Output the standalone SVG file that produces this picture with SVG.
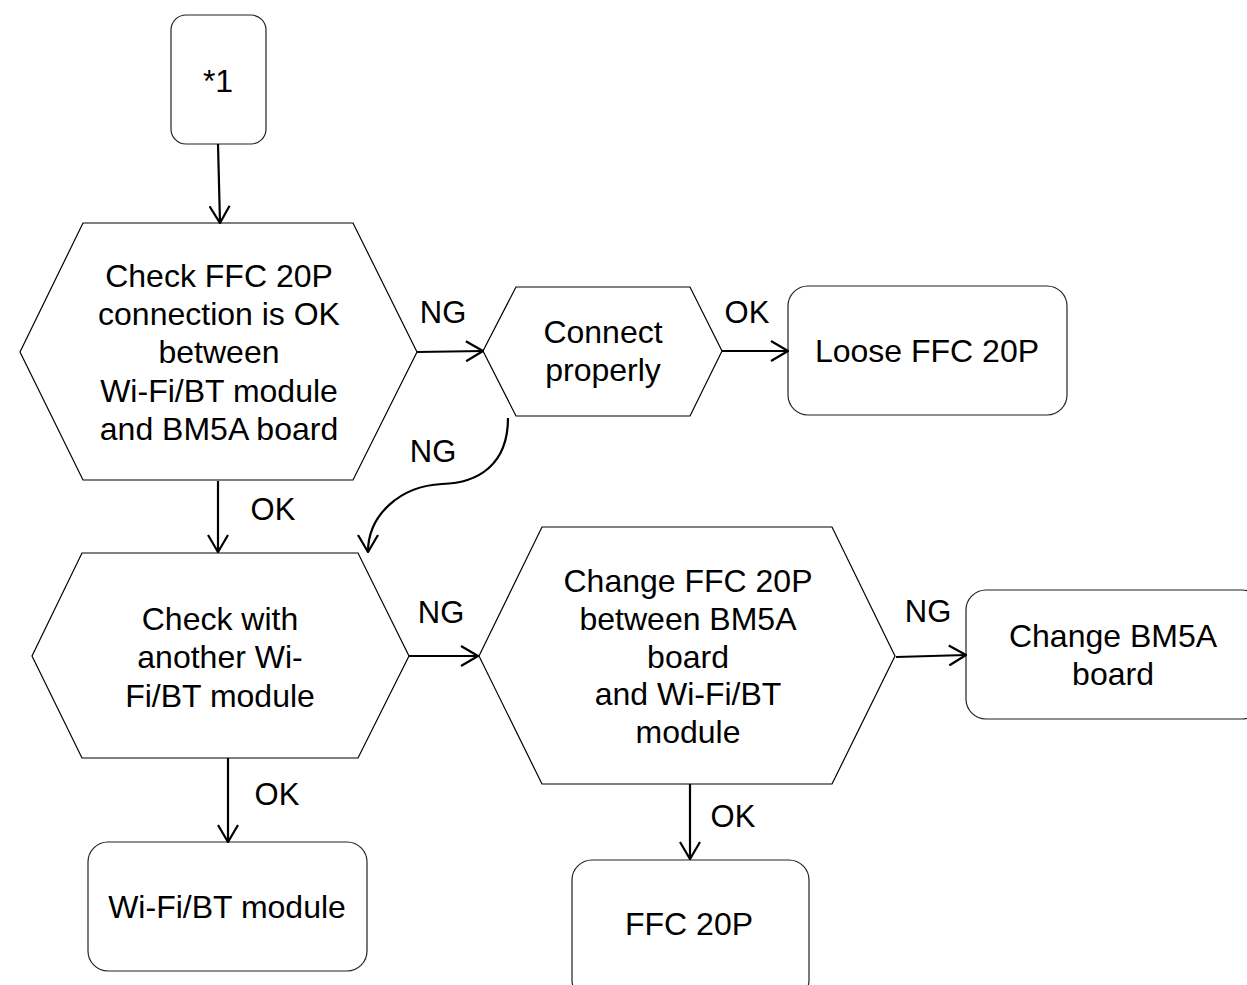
<svg xmlns="http://www.w3.org/2000/svg" width="1247" height="985" viewBox="0 0 1247 985">
<style>
.shape{fill:#fff;stroke:#000;stroke-width:1.2}
.box{fill:#fff;stroke:#222;stroke-width:1.2}
.t{font-family:"Liberation Sans",Arial,sans-serif;font-size:32px;fill:#000;text-anchor:middle}
.lbl{font-family:"Liberation Sans",Arial,sans-serif;font-size:31px;fill:#000;text-anchor:middle}
.c{fill:none;stroke:#000;stroke-width:2.2;marker-end:url(#arr)}
</style>
<defs>
<marker id="arr" viewBox="0 0 19 22" refX="18" refY="11" markerWidth="19" markerHeight="22" markerUnits="userSpaceOnUse" orient="auto">
<path d="M1,1 L18,11 L1,21" fill="none" stroke="#000" stroke-width="2.2"/>
</marker>
</defs>
<rect width="1247" height="985" fill="#fff"/>

<g id="n1">
<rect class="box" x="171" y="15" width="95" height="129" rx="15"/>
<text class="t" x="218" y="92">*1</text>
</g>
<g id="n2">
<polygon class="shape" points="83,223 353,223 417,352 353,480 83,480 20,352"/>
<text class="t" x="219" y="287">Check FFC 20P</text>
<text class="t" x="219" y="325">connection is OK</text>
<text class="t" x="219" y="363">between</text>
<text class="t" x="219" y="402">Wi-Fi/BT module</text>
<text class="t" x="219" y="440">and BM5A board</text>
</g>
<g id="n3">
<polygon class="shape" points="516,287 690,287 722,351 690,416 516,416 483,351"/>
<text class="t" x="603" y="343">Connect</text>
<text class="t" x="603" y="381">properly</text>
</g>
<g id="n4">
<rect class="box" x="788" y="286" width="279" height="129" rx="20"/>
<text class="t" x="927" y="362">Loose FFC 20P</text>
</g>
<g id="n5">
<polygon class="shape" points="82,553 358,553 409,656 358,758 82,758 32,656"/>
<text class="t" x="220" y="630">Check with</text>
<text class="t" x="220" y="668">another Wi-</text>
<text class="t" x="220" y="707">Fi/BT module</text>
</g>
<g id="n6">
<polygon class="shape" points="542,527 832,527 895,656 832,784 542,784 479,656"/>
<text class="t" x="688" y="592">Change FFC 20P</text>
<text class="t" x="688" y="630">between BM5A</text>
<text class="t" x="688" y="668">board</text>
<text class="t" x="688" y="705">and Wi-Fi/BT</text>
<text class="t" x="688" y="743">module</text>
</g>
<g id="n7">
<rect class="box" x="966" y="590" width="296" height="129" rx="20"/>
<text class="t" x="1113" y="647">Change BM5A</text>
<text class="t" x="1113" y="685">board</text>
</g>
<g id="n8">
<rect class="box" x="88" y="842" width="279" height="129" rx="20"/>
<text class="t" x="227" y="918">Wi-Fi/BT module</text>
</g>
<g id="n9">
<rect class="box" x="572" y="860" width="237" height="140" rx="20"/>
<text class="t" x="689" y="935">FFC 20P</text>
</g>

<g id="connectors">
<path class="c" d="M218,144 L220,223"/>
<path class="c" d="M417,352 L483,351"/>
<path class="c" d="M722,351 L788,351"/>
<path class="c" d="M508,418 C508,465 478,483 442,484 C400,486 368,515 368,552"/>
<path class="c" d="M218,481 L218,552"/>
<path class="c" d="M409,656 L478,656"/>
<path class="c" d="M228,758 L228,842"/>
<path class="c" d="M896,657 L966,655"/>
<path class="c" d="M690,784 L690,859"/>
<text class="lbl" x="443" y="323">NG</text>
<text class="lbl" x="747" y="323">OK</text>
<text class="lbl" x="433" y="462">NG</text>
<text class="lbl" x="273" y="520">OK</text>
<text class="lbl" x="441" y="623">NG</text>
<text class="lbl" x="277" y="805">OK</text>
<text class="lbl" x="928" y="622">NG</text>
<text class="lbl" x="733" y="827">OK</text>
</g>
</svg>
